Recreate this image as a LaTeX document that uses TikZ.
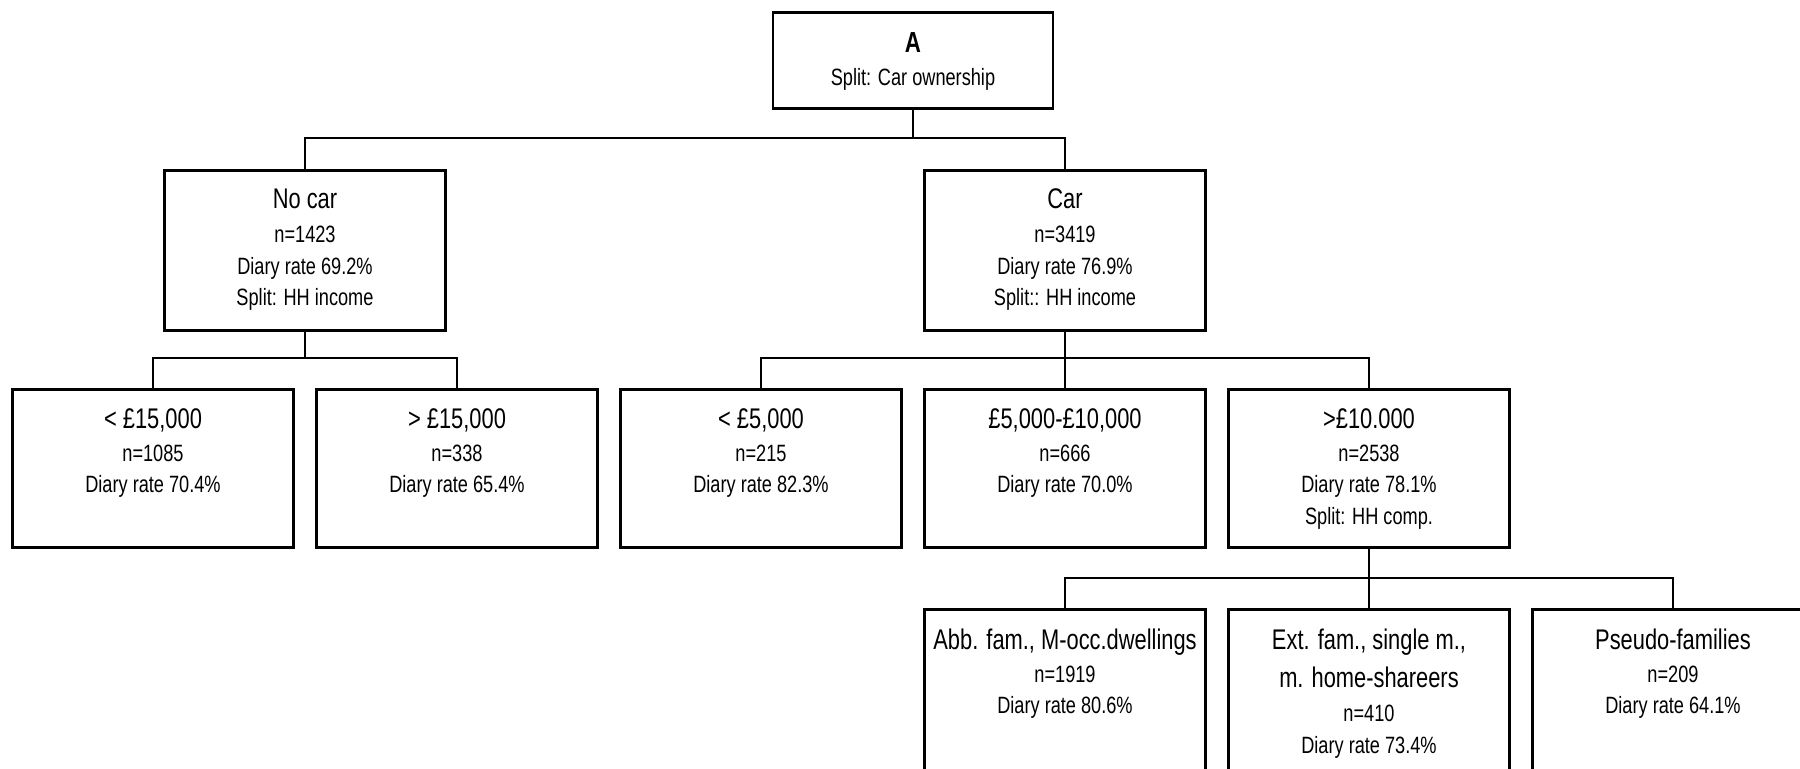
\documentclass[tikz,border=0pt]{standalone}
\usepackage{fontspec}
\setmainfont{Liberation Sans}[FakeStretch=0.77]
\begin{document}
\begin{tikzpicture}[x=0.5pt,y=-0.5pt,
  box/.style={draw, line width=1.3pt, inner sep=0pt, anchor=north, minimum width=140.5pt},
  conn/.style={line width=1.3pt},
  big/.style={anchor=base, inner sep=0pt, font=\fontsize{14.2pt}{17pt}\selectfont},
  small/.style={anchor=base, inner sep=0pt, font=\fontsize{11.8pt}{14pt}\selectfont},
  boldt/.style={anchor=base, inner sep=0pt, font=\fontsize{14.5pt}{17pt}\selectfont\bfseries}]
\useasboundingbox (0,0) rectangle (1800,769);
\clip (0,0) rectangle (1800,769);
% boxes
\node[box, minimum width=140pt, minimum height=48pt] (root) at (913,11) {};
\node[box, minimum height=80.25pt] (nocar) at (305,169) {};
\node[box, minimum height=80.25pt] (car) at (1065,169) {};
\node[box, minimum height=79pt] (l1) at (153,388) {};
\node[box, minimum height=79pt] (l2) at (457,388) {};
\node[box, minimum height=79pt] (l3) at (761,388) {};
\node[box, minimum height=79pt] (l4) at (1065,388) {};
\node[box, minimum height=79pt] (l5) at (1369,388) {};
\node[box, minimum height=100pt] (m1) at (1065,608) {};
\node[box, minimum height=100pt] (m2) at (1369,608) {};
\node[box, minimum height=100pt] (m3) at (1673,608) {};
% texts
\node[boldt] (rootA) at (913,53) {A};
\node[small] (rootB) at (913,86) {Split: Car ownership};
\node[big] (nocarA) at (305,209) {No car};
\node[small] (nocarB) at (305,243) {n=1423};
\node[small] (nocarC) at (305,275) {Diary rate 69.2\%};
\node[small] (nocarD) at (305,306) {Split: HH income};
\node[big] (carA) at (1065,209) {Car};
\node[small] (carB) at (1065,243) {n=3419};
\node[small] (carC) at (1065,275) {Diary rate 76.9\%};
\node[small] (carD) at (1065,306) {Split:: HH income};
\node[big] (l1A) at (153,429) {< £15,000};
\node[small] (l1B) at (153,462) {n=1085};
\node[small] (l1C) at (153,493) {Diary rate 70.4\%};
\node[big] (l2A) at (457,429) {> £15,000};
\node[small] (l2B) at (457,462) {n=338};
\node[small] (l2C) at (457,493) {Diary rate 65.4\%};
\node[big] (l3A) at (761,429) {< £5,000};
\node[small] (l3B) at (761,462) {n=215};
\node[small] (l3C) at (761,493) {Diary rate 82.3\%};
\node[big] (l4A) at (1065,429) {£5,000-£10,000};
\node[small] (l4B) at (1065,462) {n=666};
\node[small] (l4C) at (1065,493) {Diary rate 70.0\%};
\node[big] (l5A) at (1369,429) {>£10.000};
\node[small] (l5B) at (1369,462) {n=2538};
\node[small] (l5C) at (1369,493) {Diary rate 78.1\%};
\node[small] (l5D) at (1369,525) {Split: HH comp.};
\node[big] (m1A) at (1065,650) {Abb. fam., M-occ.dwellings};
\node[small] (m1B) at (1065,683) {n=1919};
\node[small] (m1C) at (1065,714) {Diary rate 80.6\%};
\node[big] (m2A) at (1369,650) {Ext. fam., single m.,};
\node[big] (m2B) at (1369,688) {m. home-shareers};
\node[small] (m2C) at (1369,722) {n=410};
\node[small] (m2D) at (1369,754) {Diary rate 73.4\%};
\node[big] (m3A) at (1673,650) {Pseudo-families};
\node[small] (m3B) at (1673,683) {n=209};
\node[small] (m3C) at (1673,714) {Diary rate 64.1\%};
% connectors
\coordinate (j0) at (913,138);
\coordinate (j1) at (305,358);
\coordinate (j2) at (1065,358);
\coordinate (j3) at (1369,578);
\draw[conn] (root.south) -- (j0);
\draw[conn] (j0) -| (nocar.north);
\draw[conn] (j0) -| (car.north);
\draw[conn] (nocar.south) -- (j1);
\draw[conn] (j1) -| (l1.north);
\draw[conn] (j1) -| (l2.north);
\draw[conn] (car.south) -- (l4.north);
\draw[conn] (j2) -| (l3.north);
\draw[conn] (j2) -| (l5.north);
\draw[conn] (l5.south) -- (m2.north);
\draw[conn] (j3) -| (m1.north);
\draw[conn] (j3) -| (m3.north);
\end{tikzpicture}
\end{document}
